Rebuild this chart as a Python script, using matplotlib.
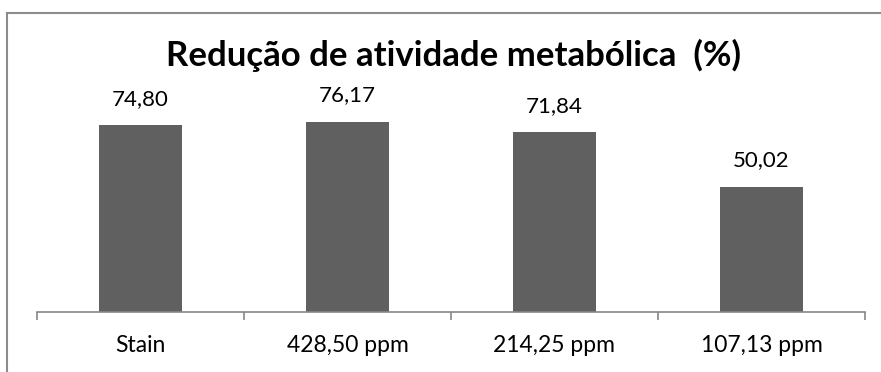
import matplotlib.pyplot as plt
from matplotlib.lines import Line2D

# bar data
categories = ['Stain', '428,50 ppm', '214,25 ppm', '107,13 ppm']
reduction = [74.80, 76.17, 71.84, 50.02]
value_labels = ['74,80', '76,17', '71,84', '50,02']

plt.rcParams['font.family'] = ['Lato', 'DejaVu Sans']

fig = plt.figure(figsize=(8.81, 3.72), dpi=100)
ax = fig.add_axes([0.042, 0.1613, 0.9398, 0.5376])

x = range(len(categories))
bars = ax.bar(x, reduction, width=0.4, color='#606060')

for xi, val, lab in zip(x, reduction, value_labels):
    ax.annotate(lab, (xi, val), xytext=(0, 19), textcoords='offset points',
                ha='center', va='center', fontsize=16, color='#000000')

ax.set_xlim(-0.5, len(categories) - 0.5)
ax.set_ylim(0, 80)
ax.set_yticks([])
ax.set_xticks([i - 0.5 for i in range(len(categories) + 1)], minor=False)
ax.set_xticklabels([])
ax.tick_params(axis='x', length=6, width=1.2, color='#868686', direction='out')
ax.set_xticks(list(x), minor=True)
ax.set_xticklabels(categories, minor=True, fontsize=16.5)
ax.tick_params(axis='x', which='minor', length=0, pad=16.5)

for side in ['top', 'right', 'left']:
    ax.spines[side].set_visible(False)
ax.spines['bottom'].set_color('#868686')
ax.spines['bottom'].set_linewidth(1.2)

fig.text(0.515, 0.85, 'Redução de atividade metabólica  (%)', ha='center', va='center',
         fontsize=25, fontweight='bold')

# chart frame (left and top edges)
fig.add_artist(Line2D([0.0085, 0.0085], [0, 0.965], transform=fig.transFigure,
                      color='#8c8c8c', linewidth=1.5))
fig.add_artist(Line2D([0.0085, 1.0], [0.965, 0.965], transform=fig.transFigure,
                      color='#8c8c8c', linewidth=1.5))

fig.savefig('out.png', dpi=100)
